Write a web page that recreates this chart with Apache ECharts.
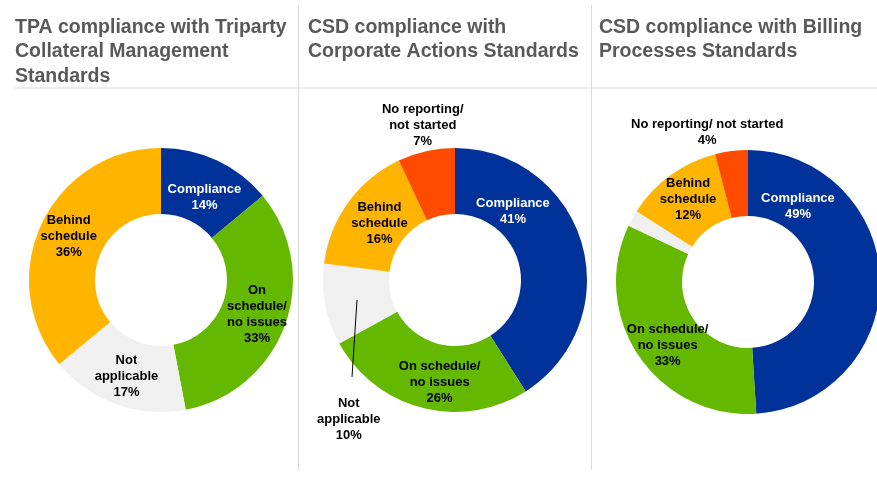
<!DOCTYPE html>
<html>
<head>
<meta charset="utf-8">
<script src="https://cdn.jsdelivr.net/npm/echarts@6/dist/echarts.min.js"></script>
<style>
html, body { margin: 0; padding: 0; background: #fff; }
#main { width: 877px; height: 478px; }
</style>
</head>
<body>
<div id="main"></div>
<script>
// categories, in clockwise order from 12 o'clock
var categories = ['Compliance', 'On schedule/ no issues', 'Not applicable', 'Behind schedule', 'No reporting/ not started'];
var sliceColors = ['#003299', '#65b800', '#f0f0f0', '#ffb400', '#ff4b00'];

// values (%) for each chart
var tpaValues = [14, 33, 17, 36, null];
var caValues = [41, 26, 10, 16, 7];
var billingValues = [49, 33, 2, 12, 4];

// label text for each chart ('' = no label)
var tpaLabels = ['Compliance', 'On\nschedule/\nno issues', 'Not\napplicable', 'Behind\nschedule', ''];
var caLabels = ['Compliance', 'On schedule/\nno issues', 'Not\napplicable', 'Behind\nschedule', 'No reporting/\nnot started'];
var billingLabels = ['Compliance', 'On schedule/\nno issues', '', 'Behind\nschedule', 'No reporting/ not started'];

var titles = [
	'TPA compliance with Triparty\nCollateral Management\nStandards',
	'CSD compliance with\nCorporate Actions Standards',
	'CSD compliance with Billing\nProcesses Standards'
];

var myChart = echarts.init(document.getElementById('main'));

// label nudges per chart: dataIndex -> [dx, dy]
var nudges = [
	{0: [0, 10]},
	{0: [-40, -40], 1: [10, 4], 2: [-6, 120], 3: [7, 3], 4: [-10, -55]},
	{0: [-52, -72], 1: [4, 6], 4: [-28, -48]}
];

function buildData(values, labels) {
	var data = [];
	for (var i = 0; i < values.length; i++) {
		if (values[i] == null) continue;
		data.push({
			name: categories[i],
			value: values[i],
			itemStyle: { color: sliceColors[i] },
			label: {
				show: labels[i] !== '',
				color: i === 0 ? '#ffffff' : '#000000',
				formatter: labels[i] + '\n' + values[i] + '%'
			}
		});
	}
	return data;
}

function makeSeries(values, labels, center, k) {
	return {
		type: 'pie',
		radius: [66, 132],
		center: center,
		startAngle: 90,
		clockwise: true,
		avoidLabelOverlap: false,
		silent: true,
		label: {
			position: 'inside',
			fontFamily: 'Liberation Sans, Arial, sans-serif',
			fontWeight: 'bold',
			fontSize: 13,
			lineHeight: 16
		},
		labelLine: { show: false },
		data: buildData(values, labels),
		labelLayout: function (params) {
			var n = nudges[k][params.dataIndex];
			if (n) return { dx: n[0], dy: n[1] };
		}
	};
}

var titleStyle = {
	fontFamily: 'Liberation Sans, Arial, sans-serif',
	fontWeight: 'bold',
	fontSize: 19.5,
	lineHeight: 24.5,
	color: '#595959'
};

var option = {
	animation: false,
	title: [
		{ text: titles[0], left: 10, top: 10, textStyle: titleStyle },
		{ text: titles[1], left: 303, top: 10, textStyle: titleStyle },
		{ text: titles[2], left: 594, top: 10, textStyle: titleStyle }
	],
	graphic: [
		{ type: 'line', shape: { x1: 14, y1: 88, x2: 877, y2: 88 }, style: { stroke: '#d9d9d9', lineWidth: 1 } },
		{ type: 'line', shape: { x1: 298.5, y1: 5, x2: 298.5, y2: 470 }, style: { stroke: '#d9d9d9', lineWidth: 1 } },
		{ type: 'line', shape: { x1: 591.5, y1: 5, x2: 591.5, y2: 470 }, style: { stroke: '#d9d9d9', lineWidth: 1 } },
		// leader line for "Not applicable" in the middle chart
		{ type: 'line', z: 100, shape: { x1: 357, y1: 300, x2: 352, y2: 377 }, style: { stroke: '#000', lineWidth: 1 } }
	],
	series: [
		makeSeries(tpaValues, tpaLabels, [161, 280], 0),
		makeSeries(caValues, caLabels, [455, 280], 1),
		makeSeries(billingValues, billingLabels, [748, 282], 2)
	]
};

myChart.setOption(option);
</script>
</body>
</html>
